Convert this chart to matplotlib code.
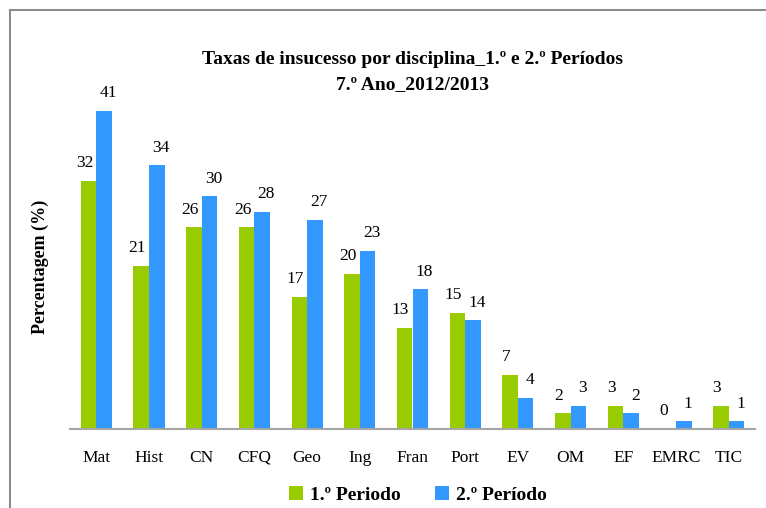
import numpy as np
import matplotlib
matplotlib.use("Agg")
import matplotlib.pyplot as plt
from matplotlib.lines import Line2D

# dados
disciplinas = ['Mat', 'Hist', 'CN', 'CFQ', 'Geo', 'Ing', 'Fran', 'Port',
               'EV', 'OM', 'EF', 'EMRC', 'TIC']
periodo1 = [32, 21, 26, 26, 17, 20, 13, 15, 7, 2, 3, 0, 3]
periodo2 = [41, 34, 30, 28, 27, 23, 18, 14, 4, 3, 2, 1, 1]
series_nomes = ['1.º Periodo', '2.º Período']

VERDE = '#99cc00'
AZUL = '#3399ff'
SERIF = ['Liberation Serif', 'DejaVu Serif']

plt.rcParams['font.family'] = SERIF

fig = plt.figure(figsize=(7.66, 5.08), dpi=100)
ax = fig.add_axes([70 / 766, 1 - 429 / 508, 685 / 766, 349 / 508])

x = np.arange(len(disciplinas))
w = 0.295
b1 = ax.bar(x - w / 2, periodo1, w, color=VERDE, label=series_nomes[0])
b2 = ax.bar(x + w / 2, periodo2, w, color=AZUL, label=series_nomes[1])

for rects, vals, dx in [(b1, periodo1, -3), (b2, periodo2, 3)]:
    for r, v in zip(rects, vals):
        ax.annotate(f'{v}', (r.get_x() + r.get_width() / 2, r.get_height()),
                    xytext=(dx, 7), textcoords='offset points',
                    ha='center', va='bottom', fontsize=12.5)

ax.set_xlim(-0.5, len(disciplinas) - 0.5)
ax.set_ylim(0, 45)
ax.set_yticks([])
ax.set_xticks(x)
ax.set_xticklabels([])
# rótulos das disciplinas alinhados pela linha de base do texto
for xi, nome in zip(x, disciplinas):
    ax.text(xi, -33 / 7.76, nome, ha='center', va='baseline', fontsize=12.5)
ax.tick_params(axis='x', length=0)
for s in ['top', 'right', 'left']:
    ax.spines[s].set_visible(False)
ax.spines['bottom'].set_color('#a6a6a6')
ax.spines['bottom'].set_linewidth(1.5)

fig.text(40 / 766, 1 - 267 / 508, 'Percentagem (%)', rotation=90,
         ha='center', va='center', fontsize=13, fontweight='bold')

fig.text(413 / 766, 1 - 72 / 508,
         'Taxas de insucesso por disciplina_1.º e 2.º Períodos\n7.º Ano_2012/2013',
         ha='center', va='center', fontsize=14, fontweight='bold',
         linespacing=1.6)

fig.legend(handles=[b1, b2], loc='center', bbox_to_anchor=(418 / 766, 1 - 495 / 508),
           ncol=2, frameon=False, prop={'weight': 'bold', 'size': 14},
           handlelength=0.7, handleheight=0.7, handletextpad=0.35,
           columnspacing=1.8)

# moldura cinzenta
fig.add_artist(Line2D([9.5 / 766, 9.5 / 766], [0, 1 - 9.5 / 508],
                      transform=fig.transFigure, color='#8c8c8c', lw=1.5))
fig.add_artist(Line2D([9.5 / 766, 1], [1 - 9.5 / 508, 1 - 9.5 / 508],
                      transform=fig.transFigure, color='#8c8c8c', lw=1.5))

fig.savefig('out.png', dpi=100, facecolor='white')
